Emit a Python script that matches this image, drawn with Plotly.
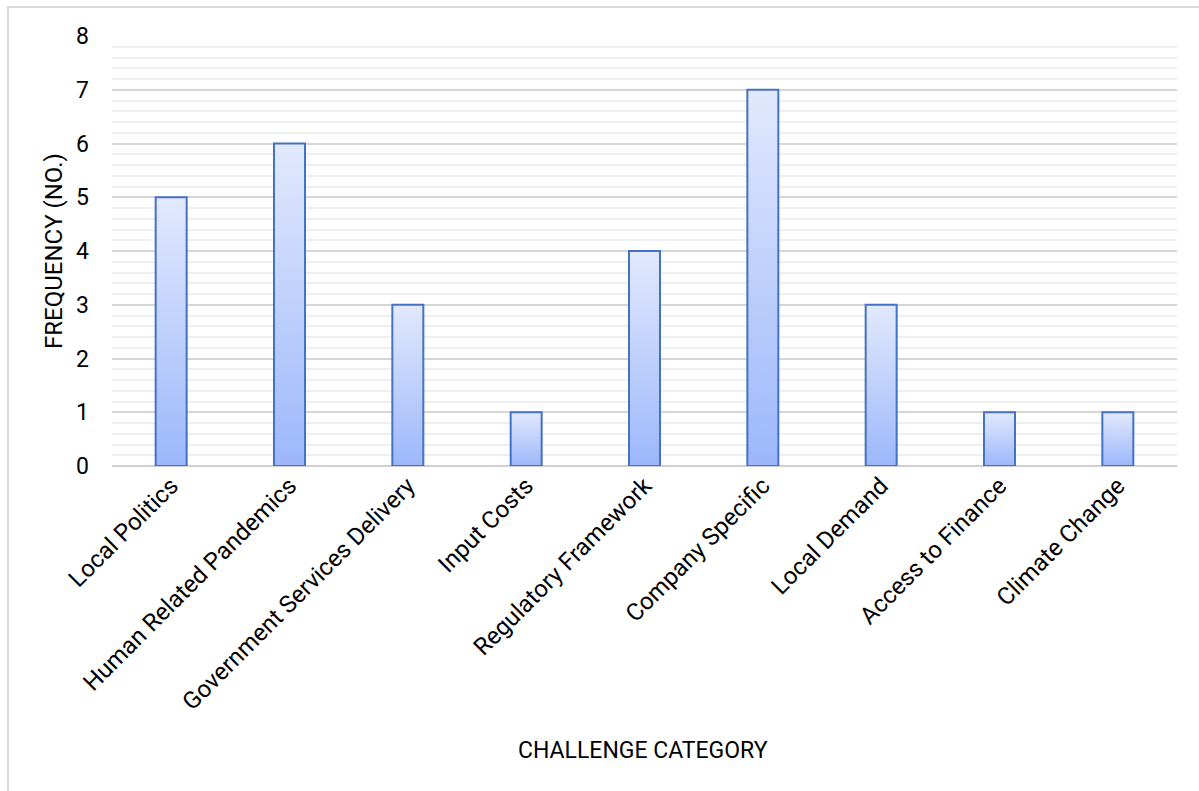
import plotly.graph_objects as go

categories = ["Local Politics", "Human Related Pandemics", "Government Services Delivery",
              "Input Costs", "Regulatory Framework", "Company Specific", "Local Demand",
              "Access to Finance", "Climate Change"]
frequency = [5, 6, 3, 1, 4, 7, 3, 1, 1]

W, H = 1199, 791
L, R, T, B = 112, 1177, 36, 466
half = 0.131

fig = go.Figure()
for i, v in enumerate(frequency):
    fig.add_trace(go.Scatter(
        x=[i - half, i - half, i + half, i + half, i - half],
        y=[0, v, v, 0, 0],
        mode="lines", fill="toself",
        fillgradient=dict(type="vertical",
                          colorscale=[[0, "#9cb7fa"], [1, "#e2e9fd"]]),
        line=dict(color="#4472c4", width=2),
        hoverinfo="skip", showlegend=False,
    ))

font = "Roboto, 'Open Sans', sans-serif"
fig.update_layout(
    width=W, height=H,
    margin=dict(l=L, r=W - R, t=T, b=H - B, autoexpand=False),
    paper_bgcolor="white", plot_bgcolor="white",
    showlegend=False,
    xaxis=dict(range=[-0.5, 8.5], tickmode="array", tickvals=list(range(len(categories))),
               ticktext=categories, tickangle=-45, showgrid=False, zeroline=False,
               showline=False, ticks="", tickfont=dict(family=font, size=24, color="black"),
               automargin=False, fixedrange=True),
    yaxis=dict(range=[0, 8], dtick=1, showgrid=True, gridcolor="#d6d6d6", gridwidth=1.5,
               zeroline=True, zerolinecolor="#d0d0d0", zerolinewidth=1.5,
               showline=False, ticks="", ticklabelstandoff=22,
               tickfont=dict(family=font, size=23, color="black"),
               minor=dict(dtick=0.2, showgrid=True, gridcolor="#efefef", gridwidth=1.5),
               automargin=False, fixedrange=True),
    shapes=[dict(type="rect", xref="paper", yref="paper",
                 x0=(8 - L) / (R - L), x1=(1215 - L) / (R - L),
                 y0=(B - 810) / (B - T), y1=(B - 7) / (B - T),
                 line=dict(color="#d9d9d9", width=2), layer="below")],
    annotations=[
        dict(text="CHALLENGE CATEGORY", xref="paper", yref="paper",
             x=(643 - L) / (R - L), y=(B - 751) / (B - T), showarrow=False,
             xanchor="center", yanchor="middle",
             font=dict(family=font, size=23, color="black")),
        dict(text="FREQUENCY (NO.)", xref="paper", yref="paper",
             x=(54 - L) / (R - L), y=(B - 251) / (B - T), showarrow=False, textangle=-90,
             xanchor="center", yanchor="middle",
             font=dict(family=font, size=24, color="black")),
    ],
)

fig.write_html("out.html")
